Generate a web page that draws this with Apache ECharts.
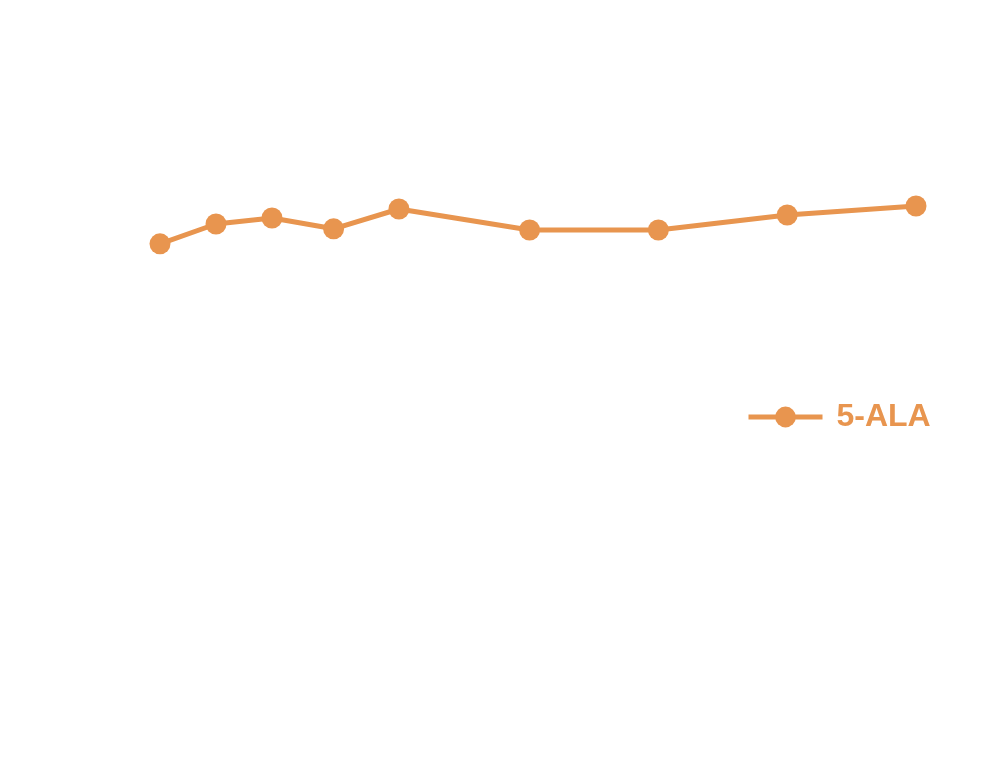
<!DOCTYPE html>
<html><head><meta charset="utf-8">
<script src="https://cdn.jsdelivr.net/npm/echarts@6/dist/echarts.min.js"></script>
<style>html,body{margin:0;padding:0;background:#fff}#c{width:1003px;height:775px}</style>
</head><body><div id="c"></div>
<script>
const seriesName = '5-ALA';
const xValues = [0, 3, 6, 9.3, 12.8, 19.8, 26.7, 33.6, 40.5];
const yValues = [76.2, 79.5, 80.5, 78.7, 82, 78.5, 78.5, 81, 82.5];
const color = '#E8954F';
const chart = echarts.init(document.getElementById('c'), null, {renderer: 'canvas'});
chart.setOption({
  backgroundColor: '#ffffff',
  animation: false,
  grid: {left: 160, right: 87, top: 101, bottom: 74},
  xAxis: {type: 'value', min: 0, max: 40.5, show: false},
  yAxis: {type: 'value', min: 0, max: 100, show: false},
  legend: {
    left: 741, top: 396, itemWidth: 74, itemHeight: 26, itemGap: 10,
    lineStyle: {width: 5},
    textStyle: {fontSize: 32, fontWeight: 'bold', color: color, fontFamily: 'Liberation Sans, Arial, sans-serif', padding: [3,0,0,9]},
    data: [seriesName]
  },
  series: [{
    name: seriesName, type: 'line',
    data: xValues.map((x, i) => [x, yValues[i]]),
    symbol: 'circle', symbolSize: 21,
    itemStyle: {color: color},
    lineStyle: {color: color, width: 5}
  }]
});
</script></body></html>
